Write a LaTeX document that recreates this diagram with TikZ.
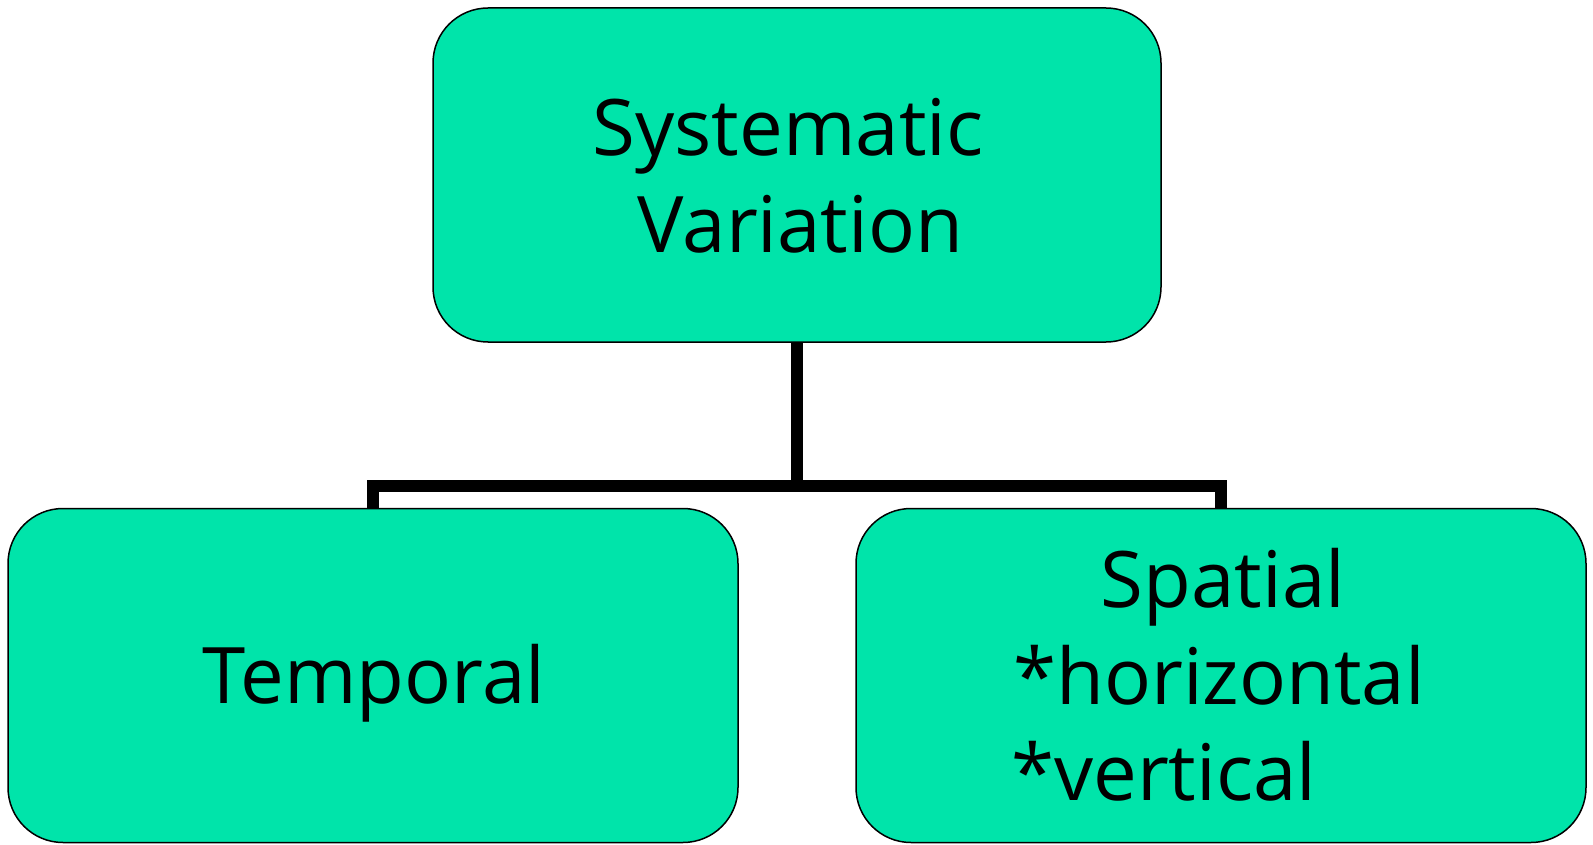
\documentclass[tikz,border=0pt]{standalone}
\usepackage{fontspec}
\setmainfont{Open Sans}
\definecolor{boxfill}{RGB}{0,228,170}
\tikzset{
  box/.style={draw=black, line width=1.5pt, fill=boxfill, rounded corners=55pt, minimum width=#1, minimum height=334pt, inner sep=0pt},
  lbl/.style={inner sep=0pt, font=\fontsize{78}{96}\selectfont},
  conn/.style={draw=black, line width=12pt, line join=miter, line cap=butt}
}
\begin{document}
\begin{tikzpicture}[x=1pt,y=-1pt]
\useasboundingbox (0,0) rectangle (1593,845);
\node[box=728pt] (top) at (797,175) {};
\node[box=730pt] (left) at (373,675.5) {};
\node[box=730pt] (right) at (1221,675.5) {};
\coordinate (mid) at (797,486);
\draw[conn] (top.south) -- (mid);
\draw[conn] (left.north) |- (mid) -| (right.north);
\node[lbl, anchor=base] (t1) at (788,155.5) {Systematic};
\node[lbl, anchor=base] (t2) at (800.5,252) {Variation};
\node[lbl, anchor=base] (t3) at (374,703) {Temporal};
\node[lbl, anchor=base] (t4) at (1223,607.5) {Spatial};
\node[lbl, anchor=base west] (t5) at (1013,704) {*horizontal};
\node[lbl, anchor=base west] (t6) at (1011,800) {*vertical};
\end{tikzpicture}
\end{document}
